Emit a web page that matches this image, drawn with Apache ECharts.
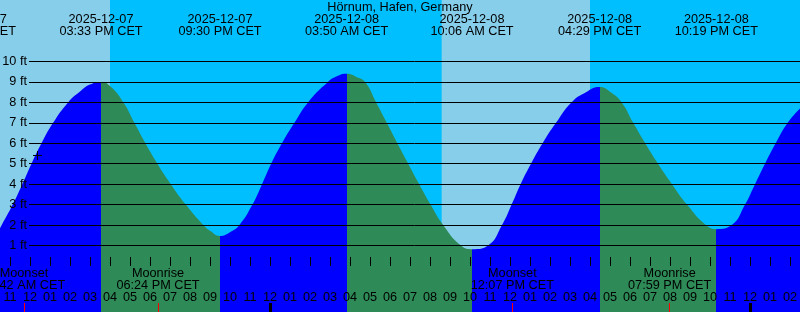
<!DOCTYPE html>
<html>
<head>
<meta charset="utf-8">
<script src="https://cdn.jsdelivr.net/npm/echarts@6/dist/echarts.min.js"></script>
<style>
html,body{margin:0;padding:0;background:#00BFFF;}
#c{width:800px;height:312px;}
</style>
</head>
<body>
<div id="c"></div>
<script>
// ---------- data ----------
const chartTitle = 'Hörnum, Hafen, Germany';

// tide extremes
const tideDates = ['2025-12-07', '2025-12-07', '2025-12-07', '2025-12-08', '2025-12-08', '2025-12-08', '2025-12-08'];
const tideTimes = ['09:13 AM CET', '03:33 PM CET', '09:30 PM CET', '03:50 AM CET', '10:06 AM CET', '04:29 PM CET', '10:19 PM CET'];
const tideTypes = ['low', 'high', 'low', 'high', 'low', 'high', 'low'];

// tide curve: hours since 2025-12-07 00:00 CET, height in ft
// (mostly the times at which the curve crosses each foot line, plus the extremes)
const curveHours = [10.5, 10.585, 11.135, 11.615, 12.075, 12.575, 13.155, 13.905, 14.5, 15.0, 15.55,
  16.0, 16.67, 17.22, 17.77, 18.37, 19.04, 19.79, 20.67, 21.0, 21.5,
  22.0, 22.47, 23.12, 23.6, 24.06, 24.6, 25.22, 25.9, 26.9, 27.4, 27.833,
  28.3, 28.75, 29.31, 29.84, 30.37, 30.91, 31.46, 32.03, 32.66, 33.55, 34.135,
  34.9, 35.6, 36.08, 36.53, 37.05, 37.63, 38.3, 39.07, 39.8, 40.483,
  41.0, 41.585, 42.16, 42.76, 43.4, 44.1, 44.85, 45.8, 46.317,
  47.085, 47.75, 48.25, 48.75, 49.285, 49.885, 50.5];
const curveFeet = [1.84, 2, 3, 4, 5, 6, 7, 8, 8.53, 8.87, 9.0,
  8.8, 8, 7, 6, 5, 4, 3, 2, 1.72, 1.47,
  1.65, 2, 3, 4, 5, 6, 7, 8, 9, 9.3, 9.4,
  9.26, 9, 8, 7, 6, 5, 4, 3, 2, 1, 0.82,
  1, 2, 3, 4, 5, 6, 7, 8, 8.5, 8.75,
  8.52, 8, 7, 6, 5, 4, 3, 2, 1.8,
  2, 3, 4, 5, 6, 7, 7.7];

// moon events
const moonDates = ['2025-12-07', '2025-12-07', '2025-12-08', '2025-12-08'];
const moonTimes = ['11:42 AM CET', '06:24 PM CET', '12:07 PM CET', '07:59 PM CET'];
const moonNames = ['Moonset', 'Moonrise', 'Moonset', 'Moonrise'];

// daylight periods
const dayStarts = ['2025-12-07 08:34', '2025-12-08 08:35'];
const dayEnds = ['2025-12-07 16:00', '2025-12-08 16:00'];

// midnights (thick ticks)
const midnights = ['2025-12-08 00:00', '2025-12-09 00:00'];

// "now" marker (hour, ft)
const nowMark = [12.365, 5.4];

// y tick labels
const feetTicks = [1, 2, 3, 4, 5, 6, 7, 8, 9, 10];

// ---------- helpers ----------
function toHours(date, time) {
  const day = parseInt(date.slice(8, 10), 10) - 7;
  const m = time.match(/(\d+):(\d+)\s*(AM|PM)?/);
  let h = parseInt(m[1], 10);
  const mi = parseInt(m[2], 10);
  if (m[3] === 'PM' && h < 12) h += 12;
  if (m[3] === 'AM' && h === 12) h = 0;
  return day * 24 + h + mi / 60;
}
function splitDT(s) { const p = s.split(' '); return toHours(p[0], p[1]); }

const FONT_FAMILY = '"Liberation Sans", Arial, Helvetica, sans-serif';
const FS = 12.7;
const FONT = FS + 'px ' + FONT_FAMILY;

const X_MIN = 10, X_MAX = 51;
const Y_MIN = -2.253, Y_MAX = 13.008;

const COL_DAY = '#87CEEB', COL_NIGHT = '#00BFFF', COL_RISE = '#0000FF', COL_FALL = '#2E8B57';

const tideH = tideDates.map((d, i) => toHours(d, tideTimes[i]));
const moonH = moonDates.map((d, i) => toHours(d, moonTimes[i]));

// rising/falling pieces for colouring the tide fill
const pieces = [];
pieces.push({ lt: tideH[0], color: tideTypes[0] === 'low' ? COL_FALL : COL_RISE });
for (let i = 0; i < tideH.length - 1; i++) {
  pieces.push({ gte: tideH[i], lt: tideH[i + 1], color: tideTypes[i] === 'low' ? COL_RISE : COL_FALL });
}
pieces.push({ gte: tideH[tideH.length - 1], color: tideTypes[tideH.length - 1] === 'low' ? COL_RISE : COL_FALL });

function hourLabel(v) {
  let h = Math.round(v) % 12;
  if (h === 0) h = 12;
  return (h < 10 ? '0' : '') + h;
}

const chart = echarts.init(document.getElementById('c'), null, { renderer: 'canvas' });

const option = {
  backgroundColor: COL_NIGHT,
  animation: false,
  title: {
    text: chartTitle, left: 'center', top: 1, padding: 0,
    textStyle: { fontFamily: FONT_FAMILY, fontSize: FS, fontWeight: 'normal', color: '#000' }
  },
  grid: [
    { left: -10, right: -10, top: 0, bottom: 0, outerBoundsMode: 'none', containLabel: false },
    { left: 29, right: 0, top: 61.5, bottom: 66.5, outerBoundsMode: 'none', containLabel: false }
  ],
  xAxis: [
    {
      gridIndex: 0, type: 'value', min: X_MIN, max: X_MAX, interval: 1, z: 10,
      axisLine: { show: false }, splitLine: { show: false },
      axisTick: { show: true, inside: true, length: 9, lineStyle: { color: '#000', width: 1 } },
      axisLabel: {
        inside: true, margin: 8, interval: 0, color: '#000', fontFamily: FONT_FAMILY, fontSize: FS,
        formatter: hourLabel, showMinLabel: true, showMaxLabel: true, hideOverlap: false
      }
    },
    { gridIndex: 1, type: 'value', min: 0, max: 1, show: false }
  ],
  yAxis: [
    { gridIndex: 0, type: 'value', min: Y_MIN, max: Y_MAX, show: false },
    {
      gridIndex: 1, type: 'value', min: feetTicks[0], max: feetTicks[feetTicks.length - 1], interval: 1, z: 10,
      axisLine: { show: false }, axisTick: { show: false },
      splitLine: { show: true, lineStyle: { color: '#000', width: 1 } },
      axisLabel: { margin: 2, color: '#000', fontFamily: FONT_FAMILY, fontSize: FS, formatter: '{value} ft' }
    }
  ],
  visualMap: {
    type: 'piecewise', show: false, dimension: 0, seriesIndex: 1,
    pieces: pieces, outOfRange: { color: COL_RISE }
  },
  series: [
    {
      type: 'custom', xAxisIndex: 0, yAxisIndex: 0, z: 1, silent: true,
      data: dayStarts.map((s, i) => [splitDT(s), splitDT(dayEnds[i])]),
      renderItem: function (params, api) {
        const a = api.coord([api.value(0), Y_MAX]);
        const b = api.coord([api.value(1), Y_MIN]);
        return { type: 'rect', shape: { x: a[0], y: a[1], width: b[0] - a[0], height: b[1] - a[1] }, style: { fill: COL_DAY } };
      }
    },
    {
      type: 'line', xAxisIndex: 0, yAxisIndex: 0, z: 2, silent: true,
      data: curveHours.map((h, i) => [h, curveFeet[i]]),
      smooth: 0.5, symbol: 'none', showSymbol: false,
      lineStyle: { width: 0 },
      areaStyle: { opacity: 1, origin: 'start' }
    },
    {
      type: 'custom', xAxisIndex: 0, yAxisIndex: 0, z: 20, silent: true,
      data: tideH.map((h, i) => [h, i]),
      renderItem: function (params, api) {
        const i = params.dataIndex;
        const x = api.coord([api.value(0), 0])[0];
        return {
          type: 'group', children: [
            { type: 'text', x: x, y: 19.5, style: { text: tideDates[i], align: 'center', verticalAlign: 'middle', font: FONT, fill: '#000' } },
            { type: 'text', x: x, y: 31.3, style: { text: tideTimes[i], align: 'center', verticalAlign: 'middle', font: FONT, fill: '#000' } }
          ]
        };
      }
    },
    {
      type: 'custom', xAxisIndex: 0, yAxisIndex: 0, z: 20, silent: true,
      data: moonH.map((h, i) => [h, i]),
      renderItem: function (params, api) {
        const i = params.dataIndex;
        const x = api.coord([api.value(0), 0])[0];
        return {
          type: 'group', children: [
            { type: 'text', x: x, y: 273.8, style: { text: moonNames[i], align: 'center', verticalAlign: 'middle', font: FONT, fill: '#000' } },
            { type: 'text', x: x, y: 285.5, style: { text: moonTimes[i], align: 'center', verticalAlign: 'middle', font: FONT, fill: '#000' } },
            { type: 'rect', shape: { x: Math.floor(x), y: 303, width: 1, height: 9 }, style: { fill: '#FF0000' } }
          ]
        };
      }
    },
    {
      type: 'custom', xAxisIndex: 0, yAxisIndex: 0, z: 20, silent: true,
      data: midnights.map(s => [splitDT(s), 0]),
      renderItem: function (params, api) {
        const x = api.coord([api.value(0), 0])[0];
        return { type: 'rect', shape: { x: Math.floor(x) - 1, y: 303, width: 3, height: 9 }, style: { fill: '#000' } };
      }
    },
    {
      type: 'custom', xAxisIndex: 0, yAxisIndex: 0, z: 25, silent: true,
      data: [nowMark],
      renderItem: function (params, api) {
        const p = api.coord([api.value(0), api.value(1)]);
        const cx = Math.floor(p[0]), cy = Math.floor(p[1]);
        return {
          type: 'group', children: [
            { type: 'rect', shape: { x: cx - 4, y: cy, width: 9, height: 1 }, style: { fill: '#000' } },
            { type: 'rect', shape: { x: cx, y: cy - 4, width: 1, height: 9 }, style: { fill: '#000' } }
          ]
        };
      }
    }
  ]
};
chart.setOption(option);
</script>
</body>
</html>
